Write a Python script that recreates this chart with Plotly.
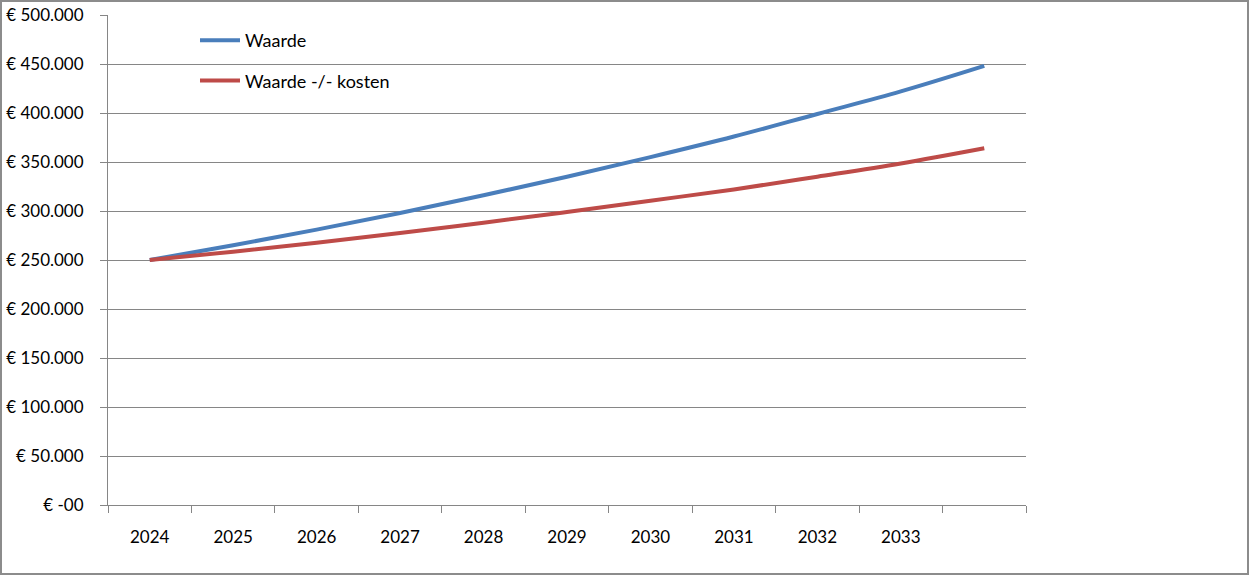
import plotly.graph_objects as go

# jaren (laatste categorie heeft geen label in het origineel)
jaren = ['2024', '2025', '2026', '2027', '2028', '2029', '2030', '2031', '2032', '2033', '2034']
jaar_labels = ['2024', '2025', '2026', '2027', '2028', '2029', '2030', '2031', '2032', '2033', '']

waarde = [250000, 265000, 281000, 298000, 316000, 335000, 355000, 376000, 399000, 422000, 448000]
waarde_min_kosten = [250000, 258500, 267500, 277500, 288000, 299000, 310500, 322000, 335000, 348500, 364000]

y_ticks = [0, 50000, 100000, 150000, 200000, 250000, 300000, 350000, 400000, 450000, 500000]
y_labels = ['€ -00', '€ 50.000', '€ 100.000', '€ 150.000', '€ 200.000', '€ 250.000',
            '€ 300.000', '€ 350.000', '€ 400.000', '€ 450.000', '€ 500.000']

W, H = 1250, 576
ml, mr, mt, mb = 108, 224, 15, 71
pw, ph = W - ml - mr, H - mt - mb

fig = go.Figure()
fig.add_trace(go.Scatter(x=jaren, y=waarde, name='Waarde', mode='lines',
                         line=dict(color='#4A7EBB', width=4, shape='spline'),
                         legendgroup='a'))
fig.add_trace(go.Scatter(x=jaren, y=waarde_min_kosten, name='Waarde -/- kosten', mode='lines',
                         line=dict(color='#BE4B48', width=4, shape='spline'),
                         legendgroup='b'))

axis_grey = '#868686'
fig.update_xaxes(type='category', tickvals=jaren, ticktext=jaar_labels,
                 tickson='boundaries', ticks='outside', ticklen=7, tickcolor=axis_grey,
                 showline=True, linecolor=axis_grey, linewidth=1, showgrid=False,
                 ticklabelstandoff=17, range=[-0.5, 10.5], automargin=False,
                 tickfont=dict(family='Lato', size=17, color='black'))
fig.update_yaxes(range=[0, 500000], tickvals=y_ticks, ticktext=y_labels,
                 ticks='outside', ticklen=7, tickcolor=axis_grey,
                 showline=True, linecolor=axis_grey, linewidth=1,
                 showgrid=True, gridcolor=axis_grey, gridwidth=1, zeroline=False,
                 ticklabelstandoff=13, automargin=False,
                 tickfont=dict(family='Lato', size=17, color='black'))

# rand rond de hele grafiek
fig.add_shape(type='rect', xref='paper', yref='paper',
              x0=(1 - ml) / pw, x1=(W - 2 - ml) / pw,
              y0=(ph - (H - 2 - mt)) / ph, y1=(ph + mt - 1) / ph,
              line=dict(color='#8C8C8C', width=2), fillcolor='rgba(0,0,0,0)', layer='below')

fig.update_layout(
    width=W, height=H, autosize=False,
    margin=dict(l=ml, r=mr, t=mt, b=mb, pad=0),
    paper_bgcolor='white', plot_bgcolor='white',
    font=dict(family='Lato', size=17, color='black'),
    showlegend=True,
    legend=dict(x=(195 - ml) / pw, y=(505 - 22) / ph, xanchor='left', yanchor='top',
                bgcolor='rgba(0,0,0,0)', tracegroupgap=14, itemwidth=40,
                font=dict(family='Lato', size=18, color='black')),
)

pin = """
document.documentElement.style.margin='0';
document.body.style.margin='0';
document.body.style.overflow='hidden';
"""
fig.write_html("out.html", post_script=pin, config={'displayModeBar': False})
